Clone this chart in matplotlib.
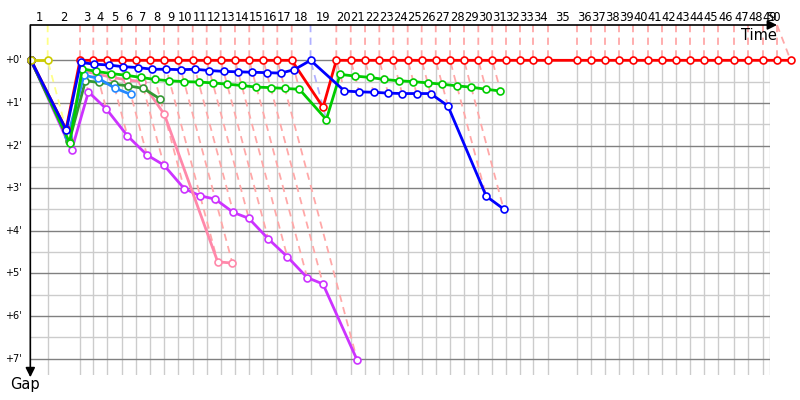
import matplotlib
matplotlib.use("Agg")
import matplotlib.pyplot as plt

# ---------------- data (minutes) ----------------
# leader's elapsed time at the end of each lap (lap 0 .. lap 50)
leader_time = [0.00, 1.47, 4.32, 5.49, 6.72, 7.99, 9.25, 10.48, 11.72, 12.98,
               14.25, 15.48, 16.71, 17.97, 19.23, 20.47, 21.70, 22.97, 24.63, 26.90,
               28.17, 29.43, 30.69, 31.92, 33.19, 34.42, 35.66, 36.92, 38.15, 39.41,
               40.64, 41.82, 43.08, 44.26, 45.58, 48.13, 49.34, 50.60, 51.83, 53.07,
               54.33, 55.57, 56.80, 58.06, 59.30, 60.53, 61.96, 63.20, 64.47, 65.70,
               66.93]
lap_labels = [str(i) for i in range(1, 51)]

# gap to the leader at the end of each lap, starting with lap 0
gap_yellow = [0.00, 0.00]
gap_purple = [0.00, 2.11, 0.74, 1.14, 1.77, 2.22, 2.46, 3.01, 3.18, 3.26, 3.57,
              3.71, 4.19, 4.61, 5.10, 5.25, 7.04]
gap_pink = [0.00, 1.85, 0.25, 0.32, 0.40, 0.46, 0.50, 1.27, 4.73, 4.76]
gap_darkgreen = [0.00, 1.90, 0.48, 0.52, 0.56, 0.60, 0.66, 0.91]
gap_lightblue = [0.00, 1.78, 0.35, 0.42, 0.65, 0.80]
gap_green = [0.00, 1.93, 0.20, 0.26, 0.31, 0.35, 0.40, 0.45, 0.48, 0.50, 0.51,
             0.53, 0.56, 0.59, 0.63, 0.64, 0.66, 0.68, 1.39, 0.33, 0.37,
             0.40, 0.45, 0.48, 0.50, 0.53, 0.56, 0.60, 0.63, 0.68, 0.72]
gap_red = [0.00, 1.62, 0.00, 0.00, 0.00, 0.00, 0.00, 0.00, 0.00, 0.00, 0.00,
           0.00, 0.00, 0.00, 0.00, 0.00, 0.00, 0.00, 1.10, 0.00, 0.00,
           0.00, 0.00, 0.00, 0.00, 0.00, 0.00, 0.00, 0.00, 0.00, 0.00,
           0.00, 0.00, 0.00, 0.00, 0.00, 0.00, 0.00, 0.00, 0.00, 0.00,
           0.00, 0.00, 0.00, 0.00, 0.00, 0.00, 0.00, 0.00, 0.00, 0.00]
gap_blue = [0.00, 1.64, 0.05, 0.09, 0.11, 0.15, 0.17, 0.21, 0.21, 0.22, 0.21,
            0.24, 0.26, 0.27, 0.28, 0.29, 0.30, 0.22, 0.00, 0.72, 0.74,
            0.75, 0.77, 0.78, 0.78, 0.78, 1.07, 3.19, 3.49]

# drawing order (bottom -> top), colour, light colour for lap lines
series = [
    ("purple", gap_purple, "#cc33ff", "#e8b0ff"),
    ("pink", gap_pink, "#ff88aa", "#ffc0d0"),
    ("darkgreen", gap_darkgreen, "#339933", "#aaddaa"),
    ("lightblue", gap_lightblue, "#2288ff", "#aaccff"),
    ("green", gap_green, "#00cc00", "#aaeeaa"),
    ("red", gap_red, "#ff0000", "#ffa8a8"),
    ("blue", gap_blue, "#0000ff", "#b0b0ff"),
    ("yellow", gap_yellow, "#cccc00", "#ffff88"),
]
leader_priority = ["yellow", "red", "blue", "green"]

# ---------------- layout ----------------
XMAX = 65.11       # grid right edge
XARROW = 65.73     # end of time axis arrow
YTOP = -0.829
YBOT = 7.387

fig = plt.figure(figsize=(8, 4), dpi=100)
ax = fig.add_axes([31 / 800, 25 / 400, (770 - 31) / 800, 350 / 400])
ax.set_xlim(0, XMAX)
ax.set_ylim(YBOT, YTOP)
ax.axis("off")

# grid
for m in range(0, 8):
    ax.plot([0, XMAX], [m, m], color="#808080", lw=1, zorder=1)
for m in range(0, 7):
    ax.plot([0, XMAX], [m + 0.5, m + 0.5], color="#cccccc", lw=1, zorder=0.9)
for t in leader_time[1:]:
    if t < XMAX:
        ax.plot([t, t], [0, YBOT], color="#cccccc", lw=1, zorder=0.9)
ax.plot([XMAX, XMAX], [0, YBOT], color="#cccccc", lw=1, zorder=0.9)

# lap lines
by_name = {s[0]: s for s in series}
for lap in range(1, len(leader_time)):
    t = leader_time[lap]
    gaps_here = [s[1][lap] for s in series if len(s[1]) > lap]
    lead = None
    for name in leader_priority:
        g = by_name[name][1]
        if len(g) > lap and g[lap] == 0:
            lead = name
            break
    light = by_name[lead][3]
    gmax = max(gaps_here)
    xs = [min(t, XARROW), t, t + gmax]
    ys = [YTOP, 0, gmax]
    ax.plot(xs, ys, color=light, lw=1.3, ls=(0, (4, 3)), zorder=2,
            clip_on=False)

# series
for name, gaps, col, light in series:
    xs = [leader_time[i] + g for i, g in enumerate(gaps)]
    ax.plot(xs, gaps, color=col, lw=2, marker="o", ms=5, mfc="white",
            mec=col, mew=1.2, zorder=3, clip_on=False)

# axes arrows
ax.annotate("", xy=(XARROW, YTOP), xytext=(0, YTOP),
            arrowprops=dict(arrowstyle="-|>", color="black", lw=1.2,
                            mutation_scale=14, shrinkA=0, shrinkB=0),
            annotation_clip=False, zorder=10)
ax.annotate("", xy=(-0.06, 7.44), xytext=(-0.06, YTOP),
            arrowprops=dict(arrowstyle="-|>", color="black", lw=1.2,
                            mutation_scale=14, shrinkA=0, shrinkB=0),
            annotation_clip=False, zorder=10)
ax.text(XARROW, -0.594, "Time", ha="right", va="center", fontsize=10.5)
ax.text(-0.53, 7.62, "Gap", ha="center", va="center", fontsize=10.5)

# y tick labels
for m in range(0, 8):
    ax.text(-0.78, m, "+%d'" % m, ha="right", va="center", fontsize=7)

# lap labels
for i, lab in enumerate(lap_labels):
    mid = (leader_time[i] + leader_time[i + 1]) / 2
    ax.text(min(mid, 65.4), -1.01, lab, ha="center", va="center", fontsize=8.3)

fig.savefig("out.png", dpi=100)
